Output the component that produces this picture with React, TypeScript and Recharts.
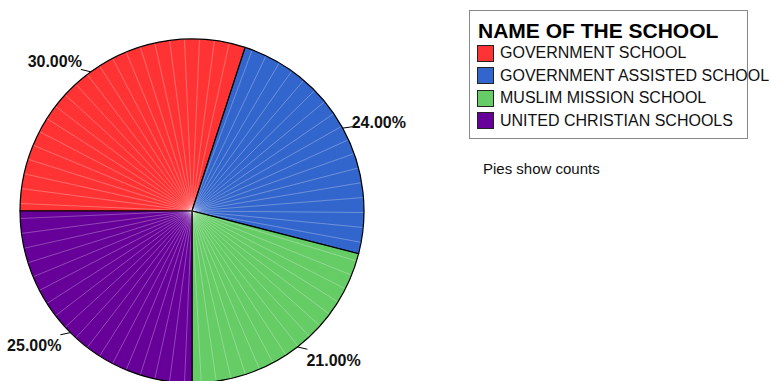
import React from "react";
import { PieChart, Pie, Cell, Sector, Legend } from "recharts";

const schools = [
  "GOVERNMENT SCHOOL",
  "GOVERNMENT ASSISTED SCHOOL",
  "MUSLIM MISSION SCHOOL",
  "UNITED CHRISTIAN SCHOOLS",
];
const counts = [30, 24, 21, 25];
const colors = ["#FF3333", "#3366CC", "#66CC66", "#660099"];
const legendTitle = "NAME OF THE SCHOOL";
const note = "Pies show counts";

const data = schools.map((name, i) => ({ name, value: counts[i] }));

const RAD = Math.PI / 180;
const FONT = "'Liberation Sans', Arial, sans-serif";

const StripedSector = (props: any) => {
  const { cx, cy, outerRadius, startAngle, endAngle, fill } = props;
  const lines: React.ReactNode[] = [];
  const lo = Math.min(startAngle, endAngle);
  const hi = Math.max(startAngle, endAngle);
  const step = 5;
  for (let a = hi - step / 2; a > lo + 0.5; a -= step) {
    lines.push(
      <line
        key={a}
        x1={cx}
        y1={cy}
        x2={cx + outerRadius * Math.cos(a * RAD)}
        y2={cy - outerRadius * Math.sin(a * RAD)}
        stroke="#ffffff"
        strokeOpacity={0.28}
        strokeWidth={1}
      />
    );
  }
  return (
    <g>
      <Sector {...props} fill={fill} stroke="none" />
      {lines}
      <Sector {...props} fill="none" stroke="#000000" strokeWidth={1.2} />
    </g>
  );
};

const renderLabel = (props: any) => {
  const { cx, cy, midAngle, outerRadius, percent } = props;
  const c = Math.cos(midAngle * RAD);
  const s = Math.sin(midAngle * RAD);
  const x1 = cx + outerRadius * c;
  const y1 = cy - outerRadius * s;
  const dir = c >= 0 ? 1 : -1;
  const x2 = x1 + dir * 10;
  const y2 = y1 - s * 3;
  const tx = x1 + dir * 9;
  const ty = y2 - s * 12 + 2;
  return (
    <g>
      <line x1={x1} y1={y1} x2={x2} y2={y2} stroke="#000" strokeWidth={1} />
      <text
        x={tx}
        y={ty}
        textAnchor={dir > 0 ? "start" : "end"}
        dominantBaseline="central"
        fontFamily={FONT}
        fontWeight="bold"
        fontSize={16}
        fill="#111"
      >
        {(percent * 100).toFixed(2) + "%"}
      </text>
    </g>
  );
};

const LegendBox = () => (
  <div
    style={{
      position: "absolute",
      left: 469,
      top: 10,
      width: 279,
      height: 129,
      border: "1px solid #888",
      boxSizing: "border-box",
      fontFamily: FONT,
      background: "#fff",
      overflow: "visible",
    }}
  >
    <div
      style={{
        position: "absolute",
        left: 8,
        top: 8,
        fontSize: 21,
        fontWeight: "bold",
        whiteSpace: "nowrap",
        color: "#000",
        lineHeight: "24px",
      }}
    >
      {legendTitle}
    </div>
    {schools.map((s, i) => (
      <div
        key={s}
        style={{
          position: "absolute",
          left: 7,
          top: 33 + i * 22.5,
          height: 18,
          display: "flex",
          alignItems: "center",
          whiteSpace: "nowrap",
        }}
      >
        <div
          style={{
            width: 15,
            height: 15,
            background: colors[i],
            border: "1px solid #222",
            marginRight: 6,
          }}
        />
        <span style={{ fontSize: 16, color: "#111" }}>{s}</span>
      </div>
    ))}
  </div>
);

export default function App() {
  return (
    <div style={{ position: "fixed", left: 0, top: 0, width: 771, height: 381, background: "#fff" }}>
      <PieChart width={771} height={381} margin={{ top: 0, right: 0, bottom: 0, left: 0 }}>
        <Pie
          data={data}
          dataKey="value"
          nameKey="name"
          cx={192}
          cy={211}
          outerRadius={172}
          startAngle={180}
          endAngle={-180}
          isAnimationActive={false}
          label={renderLabel}
          labelLine={false}
          shape={StripedSector}
          activeShape={StripedSector}
          inactiveShape={StripedSector}
          stroke="#000"
        >
          {data.map((d, i) => (
            <Cell key={d.name} fill={colors[i]} />
          ))}
        </Pie>
        <Legend content={() => null} />
      </PieChart>
      <LegendBox />
      <div
        style={{
          position: "absolute",
          left: 483,
          top: 160,
          fontFamily: FONT,
          fontSize: 15,
          color: "#111",
          whiteSpace: "nowrap",
        }}
      >
        {note}
      </div>
    </div>
  );
}
